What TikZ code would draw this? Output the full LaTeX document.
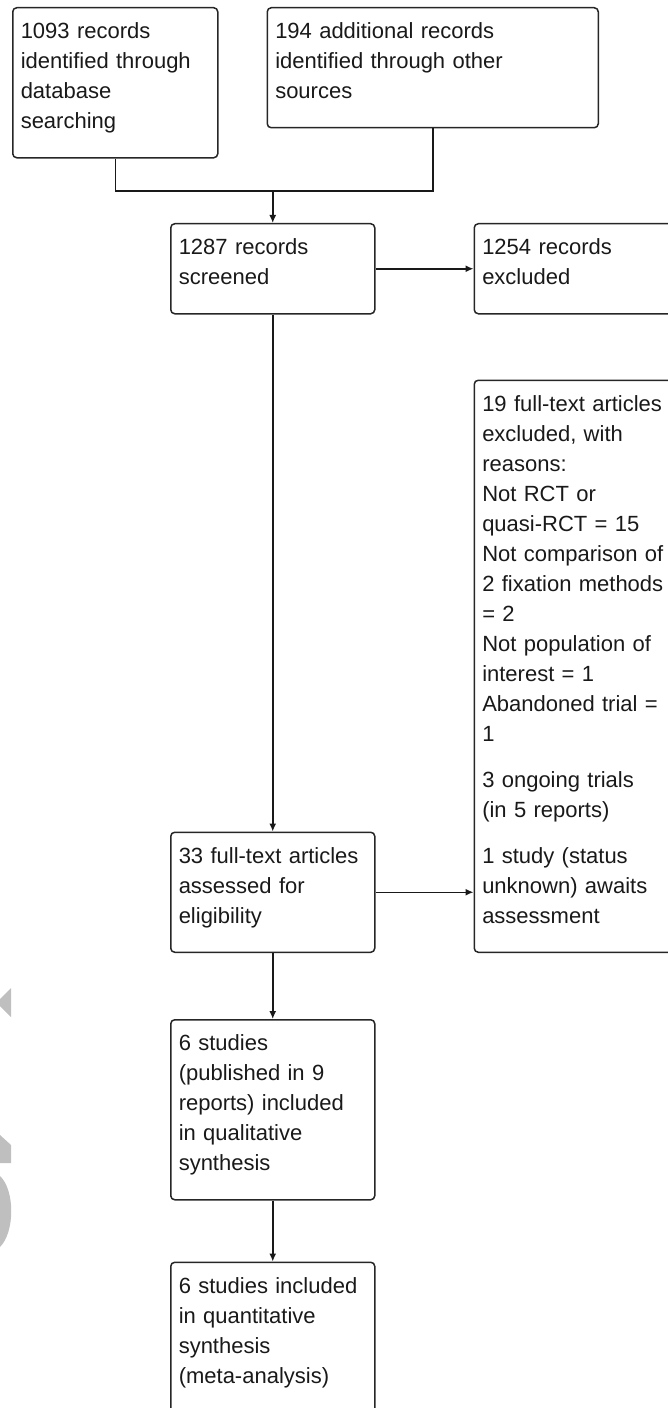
\documentclass[tikz,border=0pt]{standalone}
\usepackage{fontspec}
\setmainfont{Liberation Sans}
\usetikzlibrary{arrows.meta,positioning,calc}

\begin{document}
\begin{tikzpicture}[x=1bp, y=1bp, >={Latex[length=8bp,width=7bp]},
    block/.style={rectangle, draw=black!85, line width=1.5bp, rounded corners=4bp, text=black!90, font=\fontsize{22bp}{30bp}\selectfont, align=left, inner xsep=8bp, inner ysep=14bp, execute at begin node={\rule{0pt}{17bp}}, execute at end node={\rule[-15bp]{0pt}{15bp}}},
    link/.style={draw=black!90, line width=1.5bp}]
    \useasboundingbox (0,0) rectangle (668,-1408);
    \clip (0,0) rectangle (668,-1408);

    % Watermark pieces at the left edge
    \fill [black!25] (11,-988) -- (0,-999) -- (0,-1006) -- (11,-1017) -- cycle;
    \fill [black!25] (0,-1135) -- (11,-1145) -- (11,-1163) -- (0,-1163) -- cycle;
    \fill [black!25] (0,-1176) .. controls (15,-1190) and (15,-1232) .. (0,-1247) -- cycle;

    % Nodes
    \node (db) [block, text width=189bp, anchor=north west] at (12,-7) {1093 records\\identified through\\database\\searching};
    \node (other) [block, text width=315bp, right=48bp of db.north east, anchor=north west] {194 additional records\\identified through other\\sources};

    \node (screened) [block, text width=188bp, anchor=north west] at (170,-223) {1287 records\\screened};
    \node (excl) [block, text width=234bp, right=98bp of screened] {1254 records\\excluded};

    \node (elig) [block, text width=188bp, below=517bp of screened] {33 full-text articles\\assessed for\\eligibility};
    \node (reasons) [block, text width=234bp, below=65bp of excl.south west, anchor=north west] {19 full-text articles\\excluded, with\\reasons:\\Not RCT or\\quasi-RCT = 15\\Not comparison of\\2 fixation methods\\= 2\\Not population of\\interest = 1\\Abandoned trial =\\1\\[16bp]3 ongoing trials\\(in 5 reports)\\[16bp]1 study (status\\unknown) awaits\\assessment};

    % Included
    \node (incl) [block, text width=188bp, below=66bp of elig] {6 studies\\(published in 9\\reports) included\\in qualitative\\synthesis};
    \node (meta) [block, text width=188bp, below=61bp of incl] {6 studies included\\in quantitative\\synthesis\\(meta-analysis)};

    % Arrows
    \coordinate (merge) at ($(screened.north)+(0,32bp)$);
    \draw [link] (db.south) |- (merge) -| (other.south);
    \draw [link, ->] (merge) -- (screened);
    \draw [link, ->] (screened) -- (excl);
    \draw [link, ->] (screened) -- (elig);
    \draw [link, ->] (elig.east) -- (elig.east -| reasons.west);
    \draw [link, ->] (elig) -- (incl);
    \draw [link, ->] (incl) -- (meta);
\end{tikzpicture}
\end{document}
